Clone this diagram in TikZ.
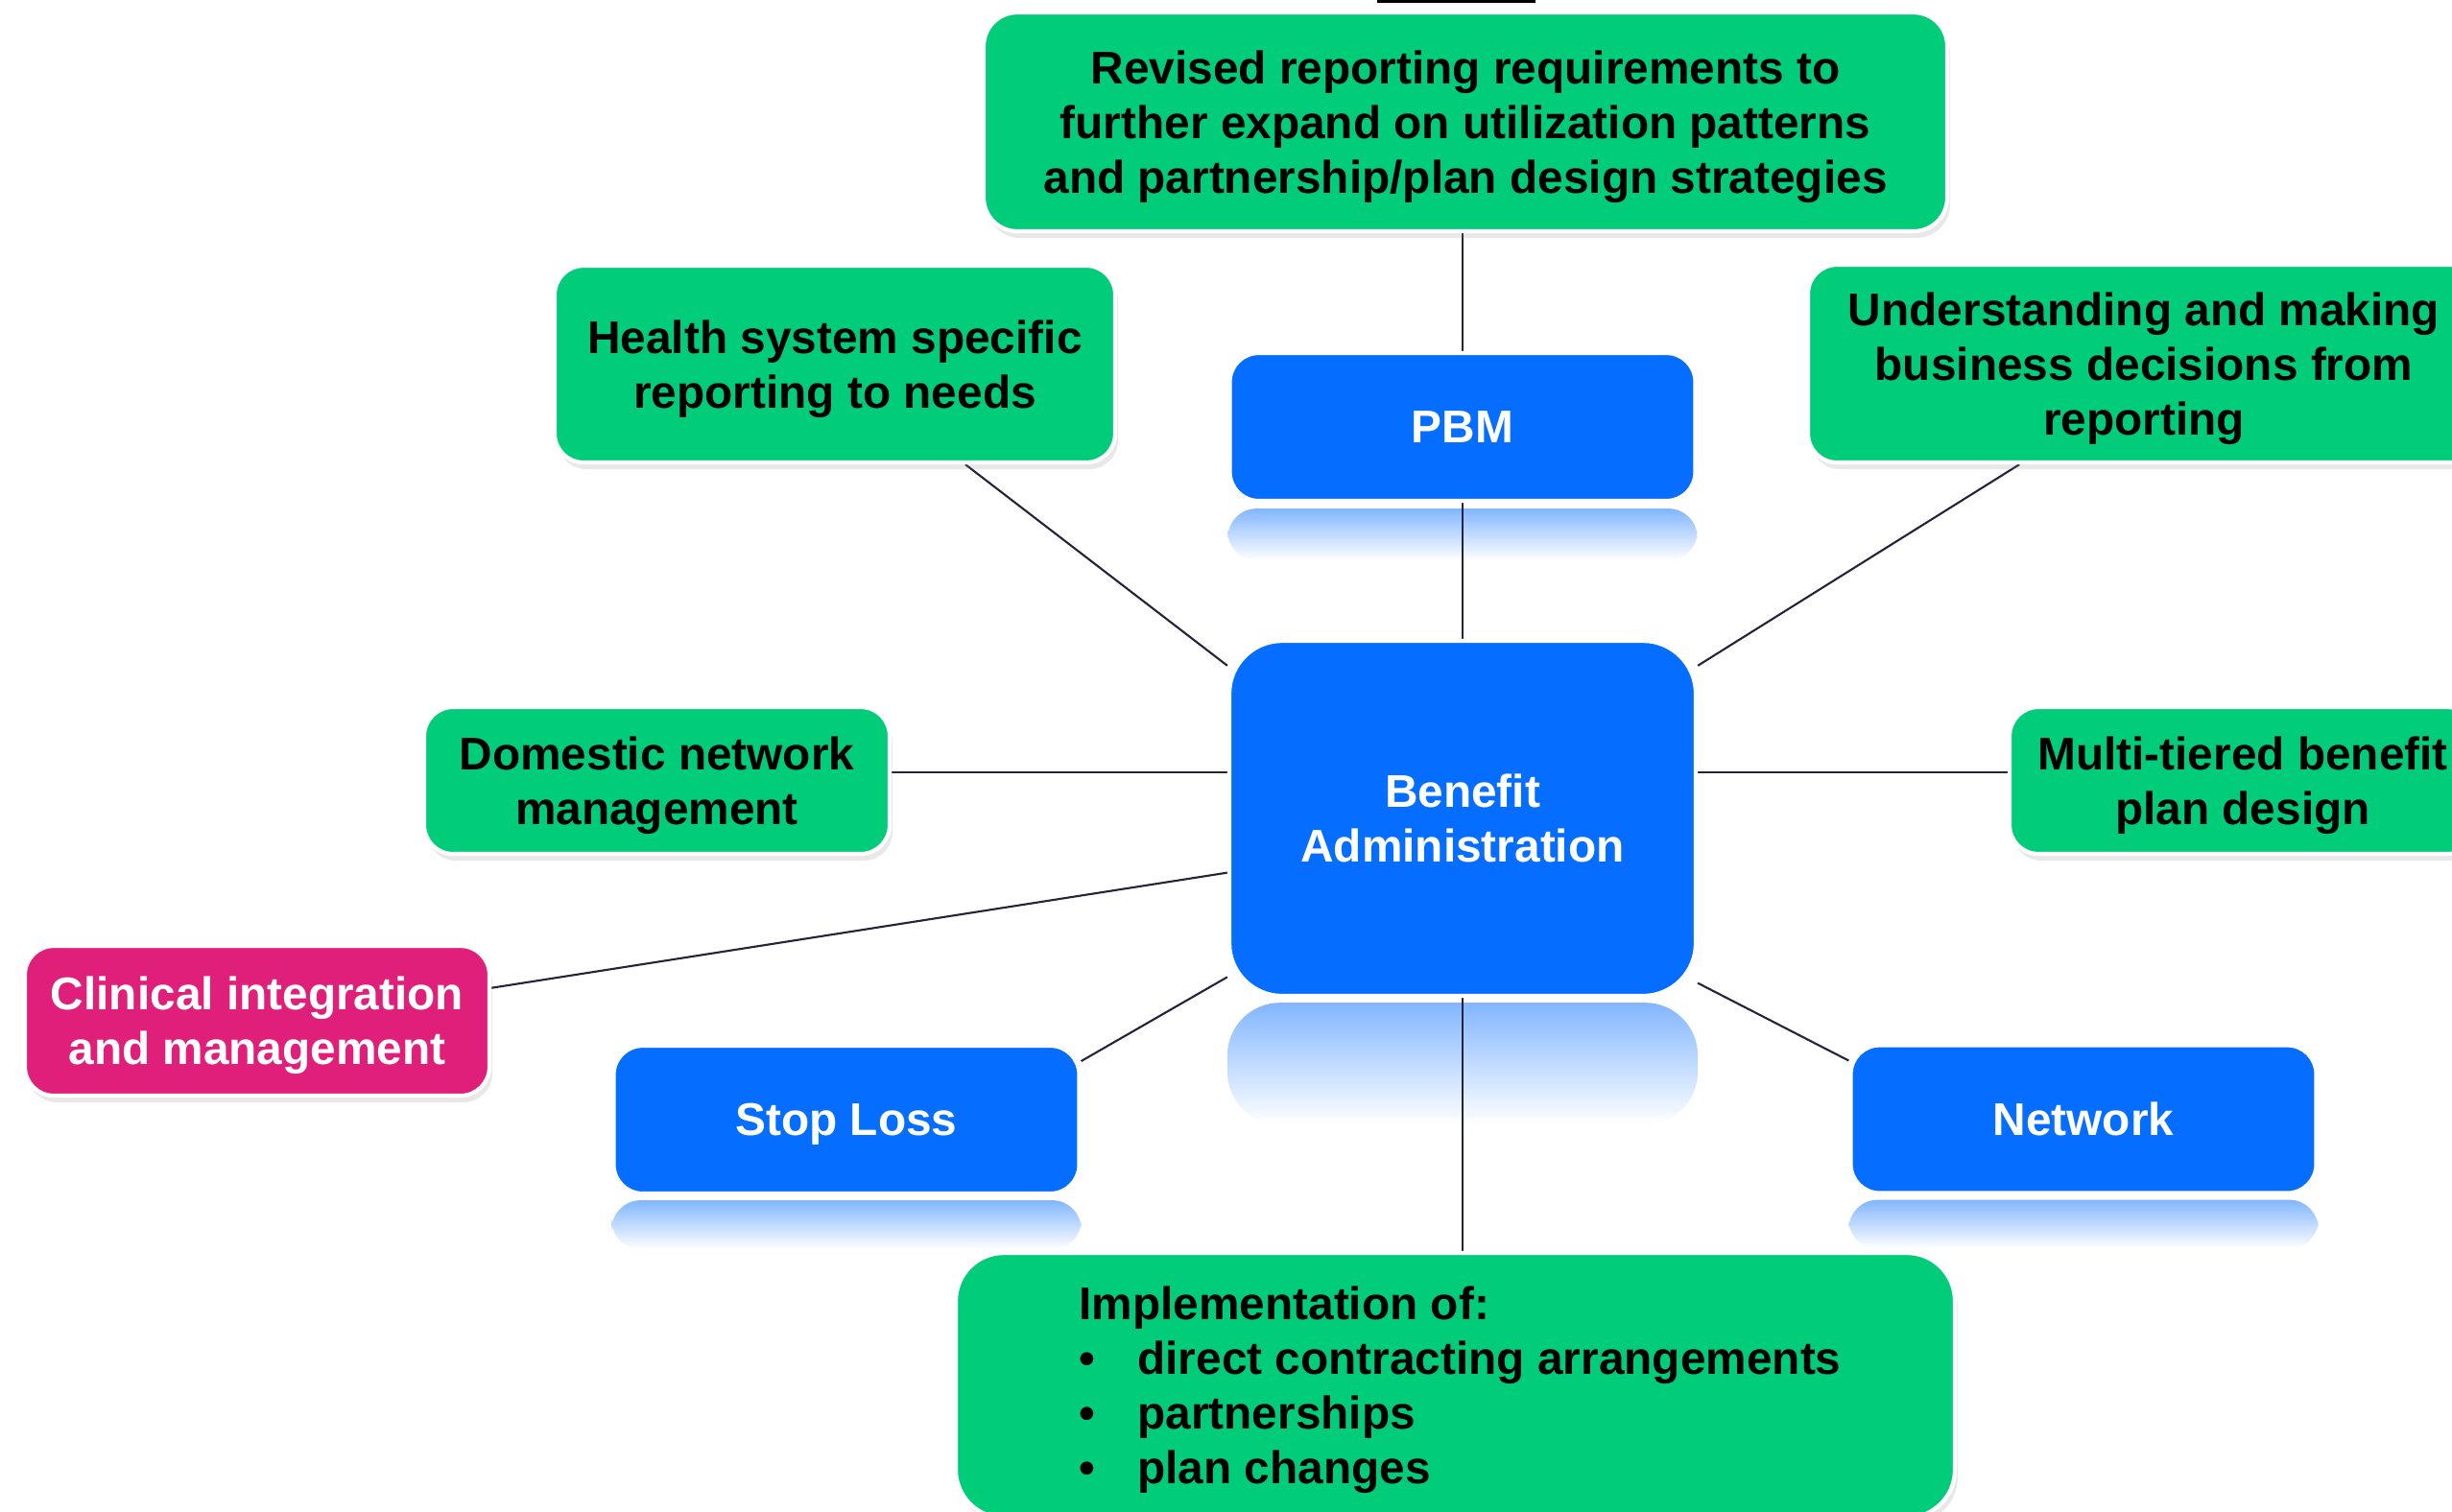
\documentclass[tikz,border=0pt]{standalone}
\usepackage{fontspec}
\setmainfont{Liberation Sans}
\usetikzlibrary{shadows, backgrounds}

\definecolor{boxgreen}{RGB}{0, 204, 122}
\definecolor{boxblue}{RGB}{5, 109, 255}
\definecolor{boxpink}{RGB}{224, 31, 122}
\definecolor{linkdark}{RGB}{35, 35, 60}

\begin{document}
\begin{tikzpicture}[
        every node/.style = {font = \fontsize{13.6}{16.2}\selectfont\bfseries, align = center, inner sep = 0pt, text depth = 0pt},
        greenbox/.style = {rectangle, rounded corners = 3mm, draw = white, line width = 1.2pt, fill = boxgreen, text = black,
            drop shadow = {shadow xshift = 0.3mm, shadow yshift = -0.7mm, opacity = 0.18}},
        pinkbox/.style = {greenbox, fill = boxpink, text = white},
        bluebox/.style = {rectangle, rounded corners = 3mm, draw = white, line width = 1.2pt, fill = boxblue, text = white,
            minimum width = 4.85cm, minimum height = 1.54cm},
        mirror/.style = {top color = boxblue!50!white, bottom color = white, rounded corners = 3mm},
        link/.style = {draw = linkdark, line width = 0.6pt}
    ]
        \useasboundingbox (0.0, 0.0) rectangle (25.55, -15.75);

        \fill [black] (14.35, 0.0) rectangle (16.00, -0.03);

        \node [greenbox, minimum width = 10.04cm, minimum height = 2.28cm, rounded corners = 3.5mm] (revised) at (15.27, -1.27)
            {Revised reporting requirements to\\further expand on utilization patterns\\and partnership/plan design strategies};
        \node [greenbox, minimum width = 5.84cm, minimum height = 2.05cm] (health) at (8.70, -3.795)
            {Health system specific\\reporting to needs};
        \node [greenbox, minimum width = 7.00cm, minimum height = 2.06cm] (understanding) at (22.34, -3.79)
            {Understanding and making\\business decisions from\\reporting};
        \node [bluebox] (pbm) at (15.24, -4.45) {PBM};

        \node [bluebox, minimum width = 4.86cm, minimum height = 3.70cm, rounded corners = 5.5mm] (admin) at (15.24, -8.53)
            {Benefit\\Administration};
        \node [greenbox, minimum width = 4.85cm, minimum height = 1.53cm] (domestic) at (6.845, -8.135)
            {Domestic network\\management};
        \node [greenbox, minimum width = 4.86cm, minimum height = 1.53cm] (multi) at (23.37, -8.135)
            {Multi-tiered benefit\\plan design};

        \node [pinkbox, minimum width = 4.84cm, minimum height = 1.56cm] (clinical) at (2.68, -10.64)
            {Clinical integration\\and management};
        \node [bluebox] (stoploss) at (8.82, -11.67) {Stop Loss};
        \node [bluebox] (network) at (21.71, -11.665) {Network};

        \node [greenbox, minimum width = 10.41cm, minimum height = 2.76cm, rounded corners = 5mm, align = left] (impl) at (15.165, -14.44)
            {\hspace*{1mm}Implementation of:\\
             \hspace*{1mm}\makebox[0.61cm][l]{\textbullet}direct contracting arrangements\\
             \hspace*{1mm}\makebox[0.61cm][l]{\textbullet}partnerships\\
             \hspace*{1mm}\makebox[0.61cm][l]{\textbullet}plan changes};

        \begin{scope}[on background layer]
            \shade [mirror] ([yshift = -0.6mm] pbm.south west) rectangle ([yshift = -6.0mm] pbm.south east);
            \shade [mirror, rounded corners = 5.5mm] ([yshift = -0.5mm] admin.south west) rectangle ([yshift = -13.2mm] admin.south east);
            \shade [mirror] ([yshift = -0.5mm] stoploss.south west) rectangle ([yshift = -5.6mm] stoploss.south east);
            \shade [mirror] ([yshift = -0.5mm] network.south west) rectangle ([yshift = -5.6mm] network.south east);

            \draw [link] (revised.south -| pbm.north) -- (pbm.north);
            \draw [link] (pbm.south) -- (admin.north);
            \draw [link] (admin.south) -- (admin.south |- impl.north);

            \draw [link] (health) -- (admin.147.5);
            \draw [link] (understanding.219) -- (admin.33);
            \draw [link] (domestic.2) -- (admin.west |- domestic.2);
            \draw [link] (multi.178) -- (admin.east |- multi.178);
            \draw [link] (clinical.8) -- (admin.193);
            \draw [link] (stoploss.14) -- (admin.214);
            \draw [link] (network.166) -- (admin.325);
        \end{scope}
    \end{tikzpicture}
\end{document}
